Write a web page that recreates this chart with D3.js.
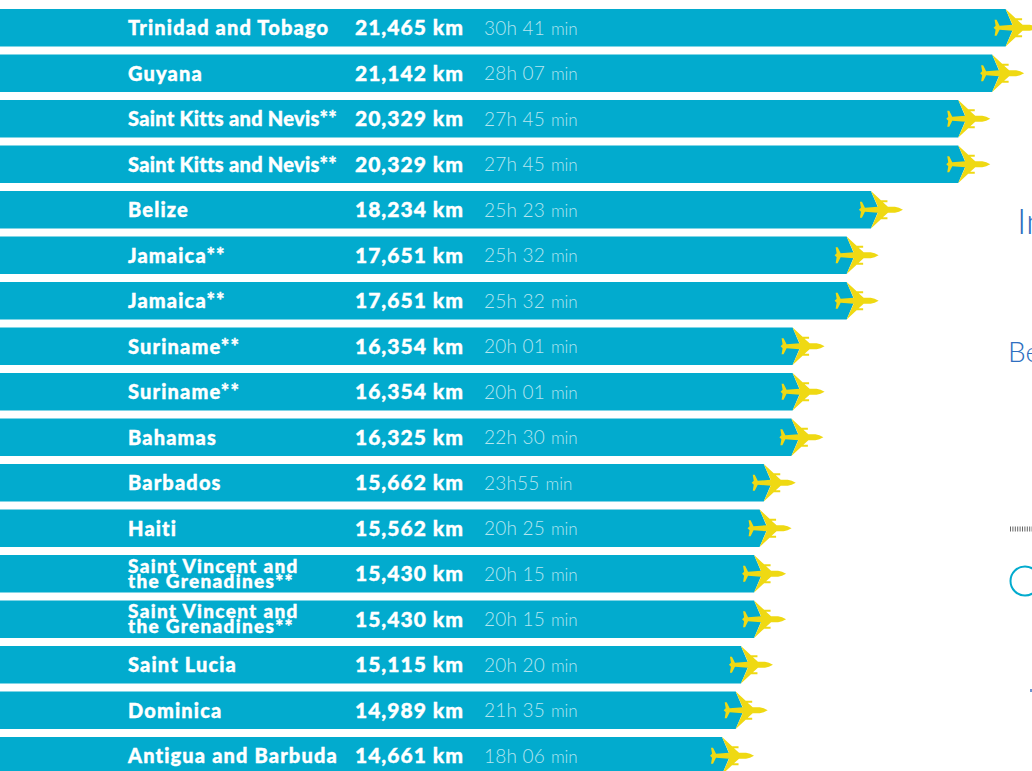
<!DOCTYPE html>
<html>
<head>
<meta charset="utf-8">
<script src="https://cdn.jsdelivr.net/npm/d3@7"></script>
<style>
  html, body { margin: 0; padding: 0; background: #fff; overflow: hidden; }
  svg { display: block; }
</style>
</head>
<body>
<div id="chart"></div>
<script>
const countries = ["Trinidad and Tobago", "Guyana", "Saint Kitts and Nevis**", "Saint Kitts and Nevis**", "Belize", "Jamaica**", "Jamaica**", "Suriname**", "Suriname**", "Bahamas", "Barbados", "Haiti", "Saint Vincent and|the Grenadines**", "Saint Vincent and|the Grenadines**", "Saint Lucia", "Dominica", "Antigua and Barbuda"];
const distances = [21465, 21142, 20329, 20329, 18234, 17651, 17651, 16354, 16354, 16325, 15662, 15562, 15430, 15430, 15115, 14989, 14661];
const durations = ["30h 41", "28h 07", "27h 45", "27h 45", "25h 23", "25h 32", "25h 32", "20h 01", "20h 01", "22h 30", "23h55", "20h 25", "20h 15", "20h 15", "20h 20", "21h 35", "18h 06"];

const width = 1032, height = 771;
const barColor = "#02abce", planeColor = "#efd913", timeColor = "#b5e5f0", noteColor = "#2f6fc0";
const fontFamily = "Lato, 'Open Sans', sans-serif";

const svg = d3.select("#chart").append("svg").attr("width", width).attr("height", height);

const xScale = d3.scaleLinear().domain([0, 21465]).range([111, 1005.6]);
const yScale = d3.scaleBand().domain(d3.range(countries.length)).range([9, 774.5]).paddingInner(0.176).paddingOuter(0);
const bandH = yScale.bandwidth();

// top half of the plane from nose to tail, origin on the end of the bar
const planeTop = [[32, 0], [28, -2], [24, -3], [17, -3], [12, -7.5], [16.5, -7.5], [16.5, -9.5], [10, -9.5], [0, -bandH / 2], [7, -3], [-6, -2], [-9, -8], [-11, -8], [-10, -2], [-12, 0]];
const planePath = d3.line()([...planeTop, ...planeTop.slice(1, -1).reverse().map(([x, y]) => [x, -y])]) + "Z";

const rows = svg.selectAll("g.row").data(countries).join("g")
  .attr("class", "row")
  .attr("transform", (d, i) => `translate(0,${yScale(i)})`);

// bar with a small point under the wings
rows.append("path")
  .attr("d", (d, i) => {
    const end = xScale(distances[i]);
    return d3.line()([[0, 0], [end, 0], [end + 8, bandH / 2], [end, bandH], [0, bandH]]) + "Z";
  })
  .attr("fill", barColor);

rows.append("path")
  .attr("transform", (d, i) => `translate(${xScale(distances[i])},${bandH / 2})`)
  .attr("d", planePath)
  .attr("fill", planeColor);

// country names, two lines where the name has a break
rows.append("text")
  .attr("font-family", fontFamily)
  .attr("font-weight", 900)
  .attr("font-size", d => d.includes("|") ? 19 : 20)
  .attr("letter-spacing", d => d.includes("|") ? 1.3 : d.startsWith("Saint Kitts") ? 0.28 : 1.15)
  .attr("fill", "#fff")
  .attr("stroke", "#fff")
  .attr("stroke-width", 0.4)
  .each(function (d) {
    const parts = d.split("|");
    const el = d3.select(this);
    parts.forEach((t, k) => {
      el.append("tspan")
        .attr("x", 128)
        .attr("y", parts.length > 1 ? bandH / 2 - 1 + k * 15 : bandH / 2 + 7.5)
        .text(t);
    });
  });

rows.append("text")
  .attr("x", 464)
  .attr("y", bandH / 2 + 7.5)
  .attr("text-anchor", "end")
  .attr("font-family", fontFamily)
  .attr("font-weight", 900)
  .attr("font-size", 21)
  .attr("letter-spacing", 1)
  .attr("fill", "#fff")
  .attr("stroke", "#fff")
  .attr("stroke-width", 0.4)
  .text((d, i) => `${d3.format(",")(distances[i])} km`);

const timeText = rows.append("text")
  .attr("x", 484)
  .attr("y", bandH / 2 + 7)
  .attr("font-family", fontFamily)
  .attr("font-weight", 300)
  .attr("fill", timeColor);
timeText.append("tspan").attr("font-size", 19).attr("letter-spacing", 0.2).text((d, i) => durations[i]);
timeText.append("tspan").attr("font-size", 17).attr("dx", 6).text("min");

// cropped bits of the page beside the bars
svg.append("text").attr("x", 1017).attr("y", 234).attr("font-family", fontFamily).attr("font-weight", 300).attr("font-size", 36).attr("fill", noteColor).text("In");
svg.append("text").attr("x", 1008).attr("y", 362).attr("font-family", fontFamily).attr("font-weight", 300).attr("font-size", 28).attr("fill", noteColor).text("Be");

svg.append("line")
  .attr("x1", 1010).attr("x2", width)
  .attr("y1", 529).attr("y2", 529)
  .attr("stroke", "#666")
  .attr("stroke-width", 5)
  .attr("stroke-dasharray", "1,1.4");

svg.append("circle")
  .attr("cx", 1025).attr("cy", 581).attr("r", 14.5)
  .attr("fill", "none")
  .attr("stroke", barColor)
  .attr("stroke-width", 2);

svg.append("rect").attr("x", 1030).attr("y", 689).attr("width", 2).attr("height", 3).attr("fill", "#6f93cf");
</script>
</body>
</html>
